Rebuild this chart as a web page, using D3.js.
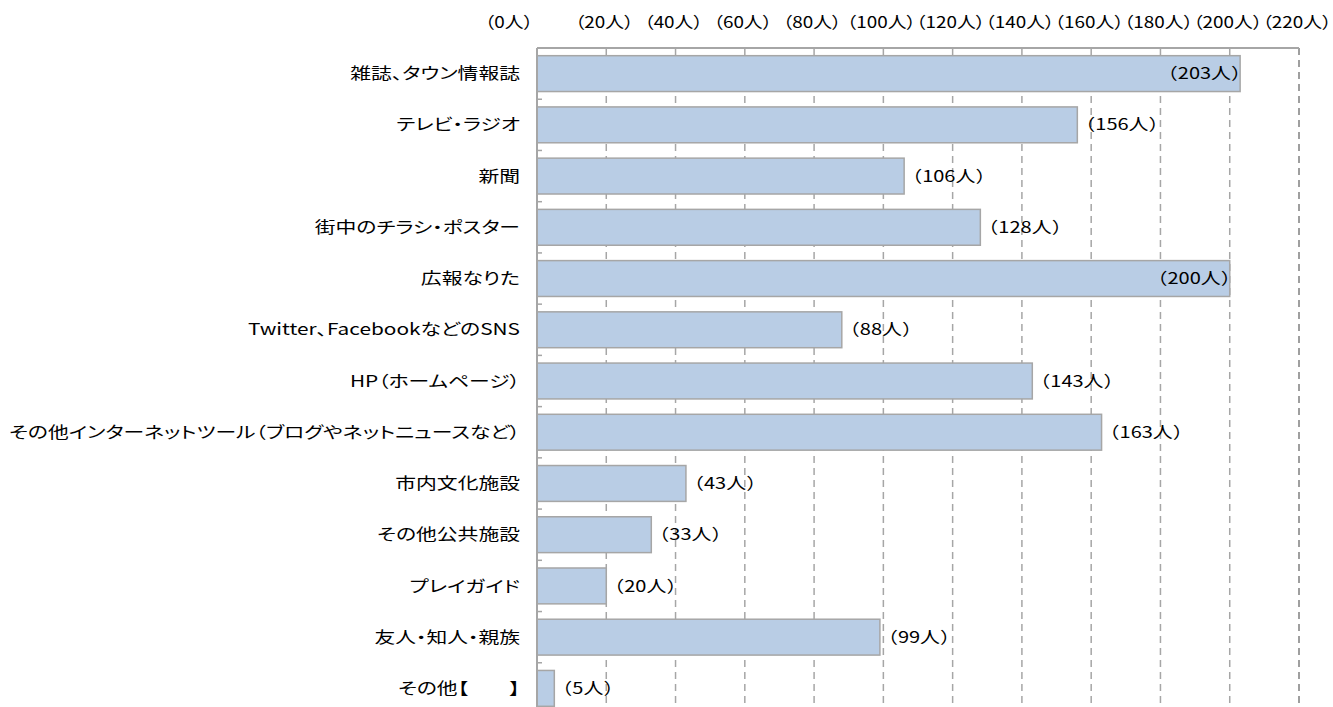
<!DOCTYPE html>
<html>
<head>
<meta charset="utf-8">
<script src="https://cdn.jsdelivr.net/npm/d3@7"></script>
<style>
  html, body { margin: 0; padding: 0; background: #fff; overflow: hidden; }
  text { font-family: "Noto Sans CJK JP", sans-serif; fill: #000; }
  .cat, .tick { font-feature-settings: "palt"; }
</style>
</head>
<body>
<svg id="chart" width="1333" height="707"></svg>
<script>
const categories = [
    "雑誌、タウン情報誌",
    "テレビ・ラジオ",
    "新聞",
    "街中のチラシ・ポスター",
    "広報なりた",
    "Twitter、FacebookなどのSNS",
    "HP（ホームページ）",
    "その他インターネットツール（ブログやネットニュースなど）",
    "市内文化施設",
    "その他公共施設",
    "プレイガイド",
    "友人・知人・親族",
    "その他【　　】"
];
const values = [203, 156, 106, 128, 200, 88, 143, 163, 43, 33, 20, 99, 5];
const tickValues = [0, 20, 40, 60, 80, 100, 120, 140, 160, 180, 200, 220];

const margin = { top: 48, left: 537, right: 34 },
      width = 1333 - margin.left - margin.right,
      height = 666;

// the source picture is stretched sideways, so text is widened too
const catScale = 1.3, numScale = 1.25, tickScale = 1.18;

const svg = d3.select("#chart");

const x = d3.scaleLinear()
    .domain([0, 220])
    .range([margin.left, margin.left + width]);

const y = d3.scaleBand()
    .domain(categories)
    .range([margin.top, margin.top + height])
    .paddingInner(0.3)
    .paddingOuter(0.15);

const fmt = v => `（${v}人）`;

// gridlines
svg.append("g")
    .selectAll("line")
    .data(tickValues.filter(d => d > 0))
    .enter()
    .append("line")
    .attr("x1", d => x(d))
    .attr("x2", d => x(d))
    .attr("y1", margin.top)
    .attr("y2", margin.top + height)
    .attr("stroke", d => d === 220 ? "#808080" : "#a6a6a6")
    .attr("stroke-width", 1.5)
    .attr("stroke-dasharray", "7,5");

// top frame line
svg.append("line")
    .attr("x1", x(0))
    .attr("x2", x(220))
    .attr("y1", margin.top)
    .attr("y2", margin.top)
    .attr("stroke", "#a6a6a6")
    .attr("stroke-width", 2);

// top tick labels
svg.append("g")
    .selectAll("text")
    .data(tickValues)
    .enter()
    .append("text")
    .attr("class", "tick")
    .attr("transform", d => `translate(${d === 0 ? x(d) - 4 : x(d) - 2},28) scale(${tickScale},1)`)
    .attr("text-anchor", d => d === 0 ? "end" : "middle")
    .attr("font-size", 16)
    .text(fmt);

// bars
svg.append("g")
    .selectAll("rect")
    .data(values)
    .enter()
    .append("rect")
    .attr("x", x(0))
    .attr("y", (d, i) => y(categories[i]))
    .attr("width", d => x(d) - x(0))
    .attr("height", y.bandwidth())
    .attr("fill", "#b9cde5")
    .attr("stroke", "#a6a6a6")
    .attr("stroke-width", 1.5);

// left axis
svg.append("line")
    .attr("x1", x(0))
    .attr("x2", x(0))
    .attr("y1", margin.top)
    .attr("y2", margin.top + height)
    .attr("stroke", "#a6a6a6")
    .attr("stroke-width", 2);

svg.append("g")
    .selectAll("line")
    .data(d3.range(categories.length + 1))
    .enter()
    .append("line")
    .attr("x1", x(0))
    .attr("x2", x(0) + 5)
    .attr("y1", i => margin.top + i * y.step())
    .attr("y2", i => margin.top + i * y.step())
    .attr("stroke", "#a6a6a6")
    .attr("stroke-width", 1.5);

// category labels
svg.append("g")
    .selectAll("text")
    .data(categories)
    .enter()
    .append("text")
    .attr("class", "cat")
    .attr("transform", d => `translate(${x(0) - 17},${y(d) + y.bandwidth() / 2}) scale(${catScale},1)`)
    .attr("dy", "0.35em")
    .attr("text-anchor", "end")
    .attr("font-size", 16)
    .text(d => d);

// value labels, inside the bar end when they would run past the frame
svg.append("g")
    .selectAll("text")
    .data(values)
    .enter()
    .append("text")
    .attr("dy", "0.35em")
    .attr("font-size", 16)
    .text(fmt)
    .each(function(d, i) {
        const w = this.getComputedTextLength() * numScale;
        const inside = x(d) - 2 + w > x(220);
        const yy = y(categories[i]) + y.bandwidth() / 2;
        d3.select(this)
            .attr("text-anchor", inside ? "end" : "start")
            .attr("transform", `translate(${inside ? x(d) + 11 : x(d) - 2},${yy}) scale(${numScale},1)`);
    });
</script>
</body>
</html>
